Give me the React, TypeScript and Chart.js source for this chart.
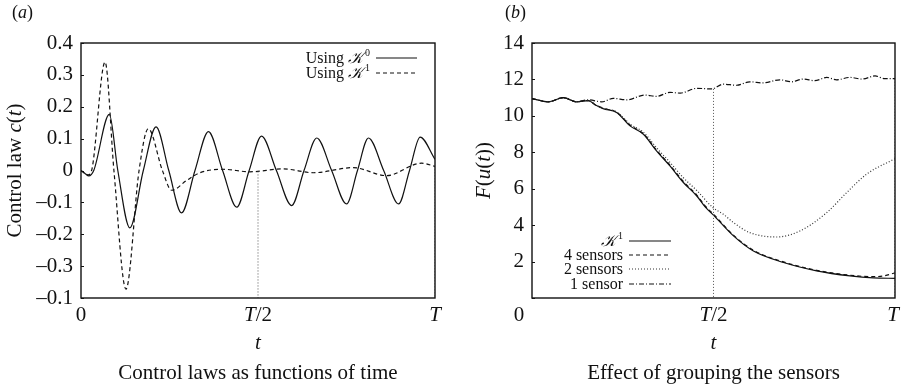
import React, { useEffect, useRef } from "react";
import { Chart, registerables } from "chart.js";
Chart.register(...registerables);

// ---------- Panel (a): control laws, t as fraction of T ----------
const tK0 = [0, 0.012, 0.022, 0.036, 0.08, 0.104, 0.138, 0.176, 0.212, 0.248, 0.284, 0.322, 0.36, 0.40, 0.44, 0.475, 0.51, 0.552, 0.595, 0.63, 0.666, 0.708, 0.75, 0.781, 0.812, 0.855, 0.897, 0.928, 0.958, 1.0];
const cK0 = [0, -0.01, -0.017, 0.0, 0.176, 0, -0.18, 0, 0.137, 0, -0.133, 0, 0.122, 0, -0.115, 0, 0.108, 0, -0.11, 0, 0.102, 0, -0.105, 0, 0.102, 0, -0.105, 0, 0.105, 0.035];
const tK1 = [0, 0.012, 0.02, 0.03, 0.068, 0.093, 0.127, 0.164, 0.19, 0.23, 0.256, 0.30, 0.336, 0.40, 0.477, 0.571, 0.656, 0.769, 0.863, 0.962, 1.0];
const cK1 = [0, -0.01, -0.014, 0, 0.34, 0, -0.372, 0, 0.131, 0, -0.062, -0.03, -0.007, 0.004, -0.004, 0.005, -0.007, 0.009, -0.016, 0.023, 0.013];
const markA = [0.5, 1.0];
const markATop = [-0.003, 0.013];
const yTicksA = [0.4, 0.3, 0.2, 0.1, 0, -0.1, -0.2, -0.3, -0.4];
const yTickLabelsA = ["0.4", "0.3", "0.2", "0.1", "0", "–0.1", "–0.2", "–0.3", "–0.1"];

// ---------- Panel (b): F(u(t)) ----------
const tKb = [0, 0.045, 0.086, 0.123, 0.155, 0.175, 0.196, 0.233, 0.27, 0.307, 0.343, 0.38, 0.417, 0.454, 0.477, 0.5, 0.555, 0.61, 0.693, 0.784, 0.876, 0.94, 1.0];
const fKb = [10.95, 10.77, 11.0, 10.77, 10.84, 10.6, 10.4, 10.19, 9.45, 8.99, 8.08, 7.25, 6.34, 5.6, 5.0, 4.55, 3.41, 2.58, 1.95, 1.49, 1.21, 1.1, 1.08];
const t4 = [0, 0.045, 0.086, 0.123, 0.155, 0.175, 0.196, 0.233, 0.27, 0.307, 0.343, 0.38, 0.417, 0.454, 0.477, 0.5, 0.555, 0.61, 0.693, 0.784, 0.876, 0.94, 0.97, 1.0];
const f4 = [10.95, 10.77, 11.0, 10.77, 10.84, 10.6, 10.42, 10.2, 9.5, 9.02, 8.12, 7.3, 6.4, 5.65, 5.05, 4.6, 3.45, 2.62, 1.98, 1.52, 1.25, 1.17, 1.22, 1.38];
const t2 = [0, 0.045, 0.086, 0.123, 0.155, 0.175, 0.196, 0.233, 0.27, 0.307, 0.343, 0.38, 0.417, 0.454, 0.498, 0.527, 0.555, 0.6, 0.674, 0.738, 0.812, 0.867, 0.922, 1.0];
const f2 = [10.95, 10.77, 11.0, 10.77, 10.84, 10.6, 10.42, 10.22, 9.55, 9.1, 8.25, 7.45, 6.6, 5.9, 4.97, 4.6, 4.14, 3.59, 3.35, 3.68, 4.69, 5.79, 6.8, 7.65];
const t1 = [0, 0.045, 0.086, 0.123, 0.155, 0.192, 0.224, 0.261, 0.311, 0.343, 0.38, 0.408, 0.454, 0.495, 0.527, 0.564, 0.6, 0.636, 0.683, 0.715, 0.747, 0.779, 0.812, 0.839, 0.876, 0.909, 0.945, 0.972, 1.0];
const f1 = [10.95, 10.77, 11.0, 10.77, 10.88, 10.77, 10.96, 10.88, 11.14, 11.07, 11.29, 11.25, 11.51, 11.48, 11.74, 11.68, 11.87, 11.81, 11.98, 11.87, 12.02, 11.93, 12.11, 11.98, 12.11, 12.02, 12.19, 12.04, 12.04];
const markB = [0.5, 1.0];
const markBTop = [11.48, 12.04];

const FAM = '"Liberation Serif", "Times New Roman", serif';
const K = "𝒦";

type Run = { t: string; it?: boolean; sup?: boolean };

function drawRuns(ctx: CanvasRenderingContext2D, runs: Run[], x: number, y: number, size: number, align: "left" | "center" | "right") {
  const fontFor = (r: Run) => `${r.it ? "italic " : ""}${r.sup ? Math.round(size * 0.62) : size}px ${FAM}`;
  const gap = (r: Run) => (r.sup ? 2 : 0);
  let total = 0;
  const widths = runs.map((r) => {
    ctx.font = fontFor(r);
    const w = ctx.measureText(r.t).width + gap(r);
    total += w;
    return w;
  });
  let cx = align === "left" ? x : align === "center" ? x - total / 2 : x - total;
  ctx.textBaseline = "middle";
  ctx.textAlign = "left";
  runs.forEach((r, i) => {
    ctx.font = fontFor(r);
    ctx.fillText(r.t, cx + gap(r), r.sup ? y - size * 0.38 : y);
    cx += widths[i];
  });
}

const xy = (xs: number[], ys: number[]) => xs.map((x, i) => ({ x, y: ys[i] }));

type LegendItem = { label: Run[]; dash: number[]; color: string; width: number };

type PanelCfg = {
  panel: string;
  yTitle: Run[];
  caption: string;
  xLabels: { v: number; runs: Run[]; dx: number }[];
  legend: LegendItem[];
  legendTextRight: number;
  legendLineX: [number, number];
  legendRows: number[];
  legendSize: number;
  yTitleX: number;
};

function decorPlugin(cfg: PanelCfg) {
  return {
    id: "decor",
    afterDraw(chart: any) {
      const { ctx, chartArea: a, scales } = chart;
      ctx.save();
      ctx.fillStyle = "#111";
      ctx.strokeStyle = "#111";
      // box
      ctx.lineWidth = 1.4;
      ctx.setLineDash([]);
      ctx.strokeRect(a.left, a.top, a.right - a.left, a.bottom - a.top);
      // inward y ticks
      ctx.lineWidth = 1;
      scales.y.ticks.forEach((tk: any) => {
        const py = Math.round(scales.y.getPixelForValue(tk.value)) + 0.5;
        ctx.beginPath();
        ctx.moveTo(a.left, py);
        ctx.lineTo(a.left + 3, py);
        ctx.stroke();
      });
      // x tick labels
      cfg.xLabels.forEach((l) => {
        const px = scales.x.getPixelForValue(l.v) + l.dx;
        drawRuns(ctx, l.runs, px, a.bottom + 17, 21, "center");
      });
      // x title
      drawRuns(ctx, [{ t: "t", it: true }], (a.left + a.right) / 2, a.bottom + 45, 21, "center");
      // caption
      drawRuns(ctx, [{ t: cfg.caption }], (a.left + a.right) / 2, a.bottom + 75, 21, "center");
      // y title
      ctx.save();
      ctx.translate(cfg.yTitleX, (a.top + a.bottom) / 2);
      ctx.rotate(-Math.PI / 2);
      drawRuns(ctx, cfg.yTitle, 0, 0, 21, "center");
      ctx.restore();
      // panel label
      drawRuns(ctx, [{ t: "(" }, { t: cfg.panel, it: true }, { t: ")" }], cfg.panel === "a" ? 12 : 55, 13, 18, "left");
      // legend
      cfg.legend.forEach((it, i) => {
        const ry = cfg.legendRows[i];
        drawRuns(ctx, it.label, cfg.legendTextRight, ry, cfg.legendSize, "right");
        ctx.beginPath();
        ctx.setLineDash(it.dash);
        ctx.lineWidth = it.width;
        ctx.strokeStyle = it.color;
        ctx.moveTo(cfg.legendLineX[0], ry - 1);
        ctx.lineTo(cfg.legendLineX[1], ry - 1);
        ctx.stroke();
      });
      ctx.restore();
    },
  };
}

const SOLID: number[] = [];
const DASH = [4, 3];
const DOT = [1, 2];
const DASHDOT = [5, 2, 1, 2];

function line(data: { x: number; y: number }[], dash: number[], color = "#111", width = 1.2) {
  return {
    data,
    borderColor: color,
    borderWidth: width,
    borderDash: dash,
    pointRadius: 0,
    fill: false,
    cubicInterpolationMode: "monotone" as const,
  };
}

function vline(x: number, top: number, bottom: number) {
  return {
    data: [{ x, y: top }, { x, y: bottom }],
    borderColor: "#555",
    borderWidth: 1,
    borderDash: DOT,
    pointRadius: 0,
    fill: false,
  };
}

function ChartCanvas({ config, width, height, left }: { config: any; width: number; height: number; left: number }) {
  const ref = useRef<HTMLCanvasElement>(null);
  useEffect(() => {
    const c = new Chart(ref.current!, config);
    return () => c.destroy();
  }, []);
  return (
    <div style={{ position: "absolute", left, top: 0, width, height }}>
      <canvas ref={ref} width={width} height={height} style={{ width, height, display: "block" }} />
    </div>
  );
}

function baseOptions(plotLeft: number, padRight: number, ymin: number, ymax: number, step: number, labelFor: (v: number) => string) {
  return {
    responsive: false,
    animation: false,
    events: [],
    layout: { padding: { top: 43, right: padRight, bottom: 91, left: 0 } },
    plugins: { legend: { display: false }, tooltip: { enabled: false } },
    scales: {
      x: { type: "linear", min: 0, max: 1, display: false },
      y: {
        type: "linear",
        min: ymin,
        max: ymax,
        grid: { display: false, drawTicks: false },
        border: { display: false },
        afterFit: (s: any) => {
          s.width = plotLeft;
        },
        ticks: {
          stepSize: step,
          padding: 8,
          color: "#111",
          font: { family: FAM, size: 21 },
          callback: (v: number) => labelFor(Math.round(v * 100) / 100),
        },
      },
    },
  };
}

export default function App() {
  const labelA = (v: number) => {
    const idx = yTicksA.findIndex((t) => Math.abs(t - v) < 1e-6);
    return idx >= 0 ? yTickLabelsA[idx] : "";
  };
  const labelB = (v: number) => (v === 0 ? "" : String(v));

  const cfgA: PanelCfg = {
    panel: "a",
    yTitle: [{ t: "Control law " }, { t: "c" , it: true }, { t: "(" }, { t: "t", it: true }, { t: ")" }],
    caption: "Control laws as functions of time",
    xLabels: [
      { v: 0, runs: [{ t: "0" }], dx: 0 },
      { v: 0.5, runs: [{ t: "T", it: true }, { t: "/2" }], dx: 0 },
      { v: 1, runs: [{ t: "T", it: true }], dx: 0 },
    ],
    legend: [
      { label: [{ t: "Using " }, { t: K, it: true }, { t: "0", sup: true }], dash: SOLID, color: "#111", width: 1.2 },
      { label: [{ t: "Using " }, { t: K, it: true }, { t: "1", sup: true }], dash: DASH, color: "#111", width: 1.2 },
    ],
    legendTextRight: 370,
    legendLineX: [376, 417],
    legendRows: [59, 74],
    legendSize: 16,
    yTitleX: 15,
  };

  const cfgB: PanelCfg = {
    panel: "b",
    yTitle: [{ t: "F", it: true }, { t: "(" }, { t: "u", it: true }, { t: "(" }, { t: "t", it: true }, { t: "))" }],
    caption: "Effect of grouping the sensors",
    xLabels: [
      { v: 0, runs: [{ t: "0" }], dx: -13 },
      { v: 0.5, runs: [{ t: "T", it: true }, { t: "/2" }], dx: 0 },
      { v: 1, runs: [{ t: "T", it: true }], dx: -2 },
    ],
    legend: [
      { label: [{ t: K, it: true }, { t: "1", sup: true }], dash: SOLID, color: "#111", width: 1.2 },
      { label: [{ t: "4 sensors" }], dash: DASH, color: "#111", width: 1.2 },
      { label: [{ t: "2 sensors" }], dash: DOT, color: "#333", width: 1.2 },
      { label: [{ t: "1 sensor" }], dash: DASHDOT, color: "#111", width: 1.2 },
    ],
    legendTextRight: 173,
    legendLineX: [179, 221],
    legendRows: [242, 256, 270, 285],
    legendSize: 16,
    yTitleX: 34,
  };

  const configA = {
    type: "line",
    data: {
      datasets: [
        vline(markA[0], markATop[0], -0.4),
        vline(markA[1], markATop[1], -0.4),
        line(xy(tK1, cK1), DASH),
        line(xy(tK0, cK0), SOLID),
      ],
    },
    options: baseOptions(81, 15, -0.4, 0.4, 0.1, labelA),
    plugins: [decorPlugin(cfgA)],
  };

  const configB = {
    type: "line",
    data: {
      datasets: [
        vline(markB[0], markBTop[0], 0),
        vline(markB[1], markBTop[1], 0),
        line(xy(t1, f1), DASHDOT),
        line(xy(t2, f2), DOT, "#333"),
        line(xy(t4, f4), DASH),
        line(xy(tKb, fKb), SOLID),
      ],
    },
    options: baseOptions(82, 6, 0, 14, 2, labelB),
    plugins: [decorPlugin(cfgB)],
  };

  return (
    <div style={{ position: "absolute", left: 0, top: 0, width: 901, height: 389, background: "#fff" }}>
      <ChartCanvas config={configA} width={450} height={389} left={0} />
      <ChartCanvas config={configB} width={451} height={389} left={450} />
    </div>
  );
}
